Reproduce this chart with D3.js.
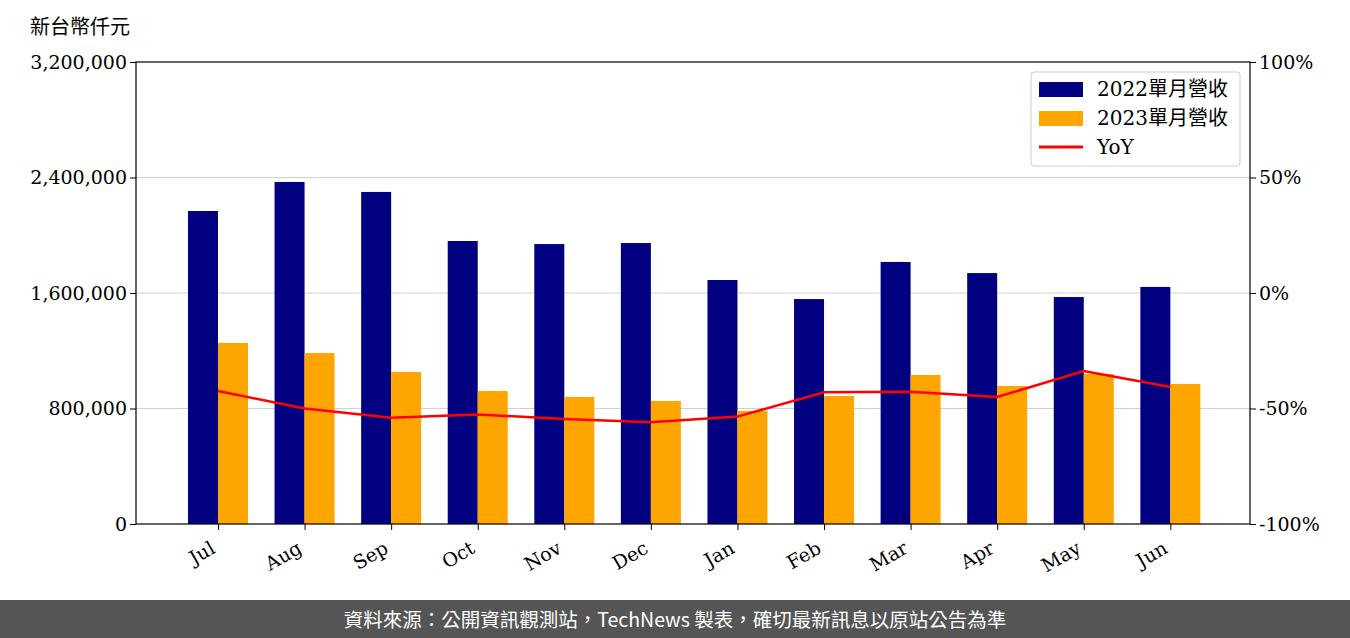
<!DOCTYPE html>
<html><head><meta charset="utf-8">
<script src="https://cdn.jsdelivr.net/npm/d3@7"></script>
<style>body{margin:0;background:#fff}text{font-family:"DejaVu Serif","Liberation Serif",serif}</style>
</head><body><div id="chart"></div>
<script>
const months = ["Jul","Aug","Sep","Oct","Nov","Dec","Jan","Feb","Mar","Apr","May","Jun"];
const rev2022 = [2168000,2369000,2300000,1960000,1939000,1946000,1690000,1558000,1815000,1738000,1572000,1642000];
const rev2023 = [1254000,1184000,1053000,921000,880000,852000,783000,887000,1032000,956000,1039000,970000];
const yoy = [-42.4,-50,-54,-52.6,-54.5,-56,-53.5,-43,-42.8,-45,-33.8,-40.7];
const leftTicks = [0,800000,1600000,2400000,3200000];
const rightTicks = [-100,-50,0,50,100];

const W = 1350, H = 638;
const svg = d3.select("#chart").append("svg").attr("width", W).attr("height", H);
const L = 136, R = 1250, T = 62, B = 524;
const cjk = '"Noto Sans CJK TC","Noto Sans CJK SC",sans-serif';

const x = d3.scaleLinear().domain([-0.947, 11.92]).range([L, R]);
const y = d3.scaleLinear().domain([0, 3200000]).range([B, T]);
const y2 = d3.scaleLinear().domain([-100, 100]).range([B, T]);
const bw = 30;

// grid
svg.append("g").selectAll("line").data(leftTicks.slice(1, 4)).join("line")
  .attr("x1", L).attr("x2", R).attr("y1", d => y(d)).attr("y2", d => y(d))
  .attr("stroke", "#d0d0d0").attr("stroke-width", 1);

svg.append("g").selectAll("rect").data(rev2022).join("rect")
  .attr("x", (d, i) => x(i) - bw).attr("y", d => y(d)).attr("width", bw)
  .attr("height", d => B - y(d)).attr("fill", "#000080");
svg.append("g").selectAll("rect").data(rev2023).join("rect")
  .attr("x", (d, i) => x(i)).attr("y", d => y(d)).attr("width", bw)
  .attr("height", d => B - y(d)).attr("fill", "#ffa500");

svg.append("path").datum(yoy)
  .attr("d", d3.line().x((d, i) => x(i)).y(d => y2(d)))
  .attr("fill", "none").attr("stroke", "#ff0000").attr("stroke-width", 2.5);

// frame
svg.append("rect").attr("x", L).attr("y", T).attr("width", R - L).attr("height", B - T)
  .attr("fill", "none").attr("stroke", "#000").attr("stroke-width", 1.2);

const ax = svg.append("g").attr("transform", `translate(${L},0)`)
  .call(d3.axisLeft(y).tickValues(leftTicks).tickFormat(d3.format(",")).tickSizeOuter(0));
const ax2 = svg.append("g").attr("transform", `translate(${R},0)`)
  .call(d3.axisRight(y2).tickValues(rightTicks).tickFormat(d => d + "%").tickSizeOuter(0));
const axb = svg.append("g").attr("transform", `translate(0,${B})`)
  .call(d3.axisBottom(x).tickValues(d3.range(12)).tickFormat(i => months[i]).tickSizeOuter(0));
[ax, ax2, axb].forEach(a => {
  a.select(".domain").remove();
  a.selectAll("text").attr("font-size", 19).attr("fill", "#000")
    .style("font-family", '"DejaVu Serif",serif');
  a.selectAll("line").attr("stroke", "#000");
});
axb.selectAll("text").attr("text-anchor", "end").attr("dy", null)
  .attr("transform", "translate(-2,28) rotate(-30)").attr("y", 0);

svg.append("text").attr("x", 30).attr("y", 34).attr("font-size", 20)
  .style("font-family", cjk).text("新台幣仟元");

// legend
const lg = svg.append("g").attr("transform", "translate(1031,72)");
lg.append("rect").attr("width", 209).attr("height", 94).attr("rx", 3)
  .attr("fill", "#fff").attr("fill-opacity", 0.85).attr("stroke", "#ccc");
const items = [["2022單月營收", "#000080"], ["2023單月營收", "#ffa500"], ["YoY", "#ff0000"]];
items.forEach((it, i) => {
  const cy = 17 + i * 29;
  if (i < 2) lg.append("rect").attr("x", 8).attr("y", cy - 7).attr("width", 44).attr("height", 15).attr("fill", it[1]);
  else lg.append("line").attr("x1", 8).attr("x2", 52).attr("y1", cy).attr("y2", cy).attr("stroke", it[1]).attr("stroke-width", 3);
  const t = lg.append("text").attr("x", 66).attr("y", cy + 7).attr("font-size", 20);
  if (i < 2) {
    t.append("tspan").text(it[0].slice(0, 4));
    t.append("tspan").style("font-family", cjk).text(it[0].slice(4));
  } else t.text(it[0]);
});

// footer
svg.append("rect").attr("x", 0).attr("y", 600).attr("width", W).attr("height", 38).attr("fill", "#555");
svg.append("text").attr("x", W / 2).attr("y", 627).attr("text-anchor", "middle")
  .attr("font-size", 19.5).attr("fill", "#fff").style("font-family", cjk)
  .text("資料來源：公開資訊觀測站，TechNews 製表，確切最新訊息以原站公告為準");
</script></body></html>
